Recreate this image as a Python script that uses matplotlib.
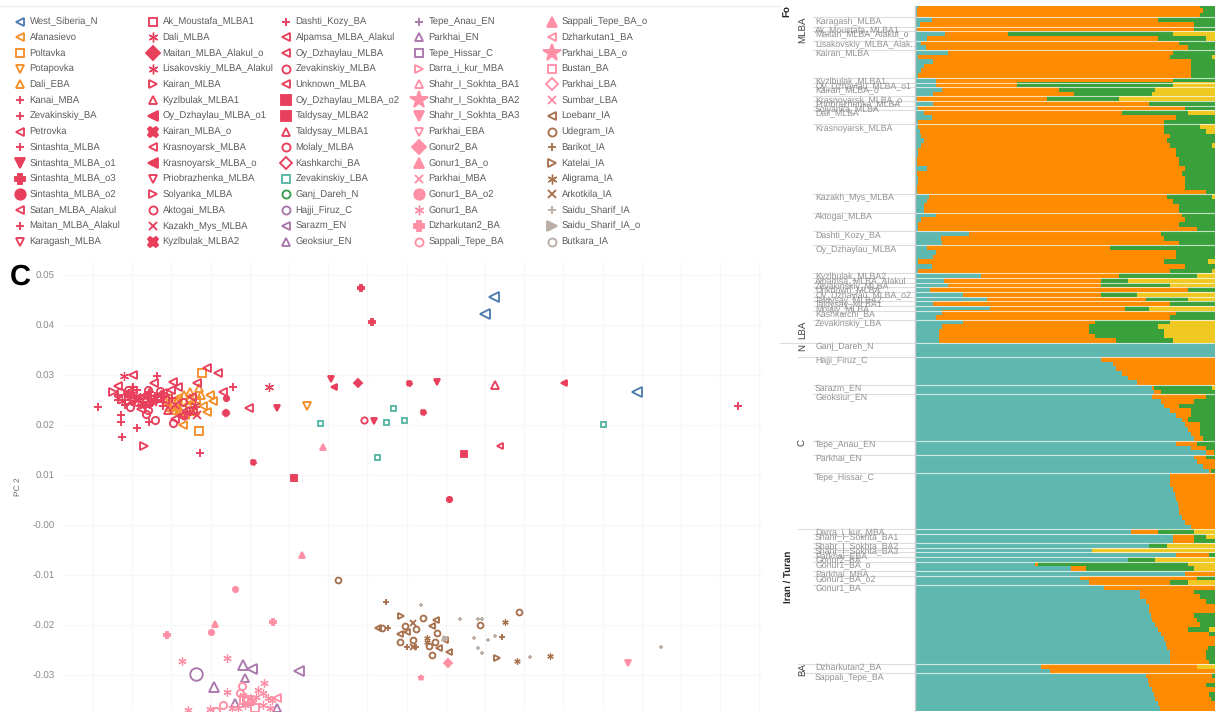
import numpy as np
import matplotlib
matplotlib.use('Agg')
import matplotlib.pyplot as plt

plt.rcParams['font.family'] = ['Liberation Sans', 'DejaVu Sans']
plt.rcParams['text.hinting'] = 'none'

blue = '#4f7cb0'
orange = '#f58f2a'
red = '#e8405c'
teal = '#58b6a6'
green = '#3a9e50'
purple = '#a977ab'
pink = '#ff8fa5'
brown = '#a8714d'
tan = '#bbaea6'

# legend entries, five columns of fifteen
pop_names = ['West_Siberia_N', 'Afanasievo', 'Poltavka', 'Potapovka', 'Dali_EBA', 'Kanai_MBA', 'Zevakinskiy_BA',
             'Petrovka', 'Sintashta_MLBA', 'Sintashta_MLBA_o1', 'Sintashta_MLBA_o3', 'Sintashta_MLBA_o2',
             'Satan_MLBA_Alakul', 'Maitan_MLBA_Alakul', 'Karagash_MLBA',
             'Ak_Moustafa_MLBA1', 'Dali_MLBA', 'Maitan_MLBA_Alakul_o', 'Lisakovskiy_MLBA_Alakul', 'Kairan_MLBA',
             'Kyzlbulak_MLBA1', 'Oy_Dzhaylau_MLBA_o1', 'Kairan_MLBA_o', 'Krasnoyarsk_MLBA', 'Krasnoyarsk_MLBA_o',
             'Priobrazhenka_MLBA', 'Solyanka_MLBA', 'Aktogai_MLBA', 'Kazakh_Mys_MLBA', 'Kyzlbulak_MLBA2',
             'Dashti_Kozy_BA', 'Alpamsa_MLBA_Alakul', 'Oy_Dzhaylau_MLBA', 'Zevakinskiy_MLBA', 'Unknown_MLBA',
             'Oy_Dzhaylau_MLBA_o2', 'Taldysay_MLBA2', 'Taldysay_MLBA1', 'Molaly_MLBA', 'Kashkarchi_BA',
             'Zevakinskiy_LBA', 'Ganj_Dareh_N', 'Hajji_Firuz_C', 'Sarazm_EN', 'Geoksiur_EN',
             'Tepe_Anau_EN', 'Parkhai_EN', 'Tepe_Hissar_C', 'Darra_i_kur_MBA', 'Shahr_I_Sokhta_BA1',
             'Shahr_I_Sokhta_BA2', 'Shahr_I_Sokhta_BA3', 'Parkhai_EBA', 'Gonur2_BA', 'Gonur1_BA_o',
             'Parkhai_MBA', 'Gonur1_BA_o2', 'Gonur1_BA', 'Dzharkutan2_BA', 'Sappali_Tepe_BA',
             'Sappali_Tepe_BA_o', 'Dzharkutan1_BA', 'Parkhai_LBA_o', 'Bustan_BA', 'Parkhai_LBA',
             'Sumbar_LBA', 'Loebanr_IA', 'Udegram_IA', 'Barikot_IA', 'Katelai_IA',
             'Aligrama_IA', 'Arkotkila_IA', 'Saidu_Sharif_IA', 'Saidu_Sharif_IA_o', 'Butkara_IA']

ast = (6, 2, 0)
pop_markers = ['<', '<', 's', 'v', '^', '+', '+', '<', '+', 'v', 'P', 'o', '<', '+', 'v',
               's', ast, 'D', ast, '>', '^', '<', 'X', '<', '<', 'v', '>', 'o', 'x', 'X',
               '+', '<', '<', 'o', '<', 's', 's', '^', 'o', 'D', 's', 'o', 'o', '<', '^',
               '+', '^', 's', '>', '^', '*', 'v', 'v', 'D', '^', 'x', 'o', ast, 'P', 'o',
               '^', '<', '*', 's', 'D', 'x', '<', 'o', '+', '>', ast, 'x', '+', '>', 'o']

pop_colors = [blue] + [orange] * 4 + [red] * 35 + [teal, green] + [purple] * 6 + [pink] * 18 + \
             [brown] * 6 + [tan] * 3

filled_pops = ['Sintashta_MLBA_o1', 'Sintashta_MLBA_o3', 'Sintashta_MLBA_o2', 'Maitan_MLBA_Alakul_o',
               'Oy_Dzhaylau_MLBA_o1', 'Kairan_MLBA_o', 'Krasnoyarsk_MLBA_o', 'Kyzlbulak_MLBA2',
               'Oy_Dzhaylau_MLBA_o2', 'Taldysay_MLBA2', 'Shahr_I_Sokhta_BA2', 'Shahr_I_Sokhta_BA3',
               'Gonur2_BA', 'Gonur1_BA_o', 'Gonur1_BA_o2', 'Dzharkutan2_BA', 'Sappali_Tepe_BA_o',
               'Parkhai_LBA_o', 'Saidu_Sharif_IA_o']

# PC1 has no tick labels in the picture, so its units are arbitrary
pc1_vals = [
    [0.494, 0.485, 0.637],
    [0.183, 0.207, 0.210, 0.213, 0.167, 0.187, 0.185, 0.203, 0.176, 0.172, 0.178, 0.193, 0.196, 0.168],
    [0.202, 0.199, 0.190],
    [0.307],
    [0.173, 0.190, 0.199, 0.190, 0.178, 0.195, 0.184, 0.180, 0.201, 0.170],
    [0.738],
    [0.200],
    [0.133, 0.118, 0.154],
    [0.098, 0.121, 0.121, 0.122, 0.137, 0.157, 0.149, 0.118, 0.133, 0.157, 0.148, 0.172, 0.233, 0.141, 0.127,
     0.118, 0.125, 0.135, 0.143, 0.150, 0.163],
    [0.331, 0.277, 0.374, 0.437],
    [0.361, 0.372],
    [0.449, 0.226],
    [0.173, 0.178, 0.141, 0.150],
    [0.145, 0.137, 0.152, 0.163, 0.128, 0.155],
    [0.190],
    [0.160],
    [0.124, 0.132, 0.269, 0.147, 0.138, 0.118, 0.128, 0.133, 0.143, 0.122, 0.136, 0.151],
    [0.358],
    [0.145, 0.195, 0.131, 0.140, 0.148],
    [0.113, 0.144, 0.165],
    [0.495],
    [0.564],
    [0.226],
    [0.197, 0.207, 0.218, 0.249, 0.223, 0.163, 0.183, 0.192, 0.171, 0.159],
    [0.334],
    [],
    [0.165],
    [0.148, 0.130, 0.148, 0.155, 0.173, 0.193, 0.120, 0.128, 0.137, 0.146, 0.133],
    [0.197, 0.175, 0.153],
    [0.409, 0.253, 0.423],
    [0.150, 0.125],
    [0.165, 0.186],
    [0.181, 0.175],
    [0.183, 0.160],
    [0.500],
    [0.294],
    [0.464],
    [0.168],
    [0.364],
    [],
    [0.320, 0.386, 0.377, 0.393, 0.404, 0.603],
    [],
    [0.196],
    [0.252, 0.299],
    [0.214, 0.243],
    [],
    [0.245, 0.235, 0.251, 0.277],
    [0.247],
    [],
    [],
    [0.421],
    [0.628],
    [],
    [0.448],
    [0.302, 0.215],
    [],
    [0.235, 0.211],
    [0.182, 0.227, 0.264, 0.227, 0.258, 0.268, 0.188, 0.263, 0.245, 0.238, 0.263, 0.270, 0.210, 0.252,
     0.243, 0.250, 0.232, 0.256, 0.272],
    [0.167, 0.273],
    [0.242, 0.223, 0.247, 0.216, 0.240],
    [0.323],
    [0.277],
    [],
    [0.247, 0.255, 0.244],
    [],
    [],
    [0.378, 0.436, 0.432, 0.400, 0.445, 0.439, 0.449, 0.407],
    [0.338, 0.519, 0.423, 0.405, 0.416, 0.437, 0.400, 0.413, 0.435, 0.429, 0.432, 0.480, 0.382],
    [0.386, 0.388, 0.502, 0.407, 0.416],
    [0.401, 0.497],
    [0.505, 0.517, 0.550, 0.427, 0.427],
    [0.413, 0.413],
    [0.421, 0.460, 0.530, 0.474, 0.488, 0.495, 0.478, 0.482, 0.661, 0.478, 0.482],
    [0.445],
    [],
]

pc2_vals = [
    [0.0456, 0.0422, 0.0266],
    [0.0200, 0.0226, 0.0260, 0.0248, 0.0244, 0.0240, 0.0220, 0.0238, 0.0232, 0.0228, 0.0254, 0.0226, 0.0250, 0.0254],
    [0.0304, 0.0188, 0.0234],
    [0.0238],
    [0.0246, 0.0266, 0.0274, 0.0254, 0.0250, 0.0228, 0.0260, 0.0230, 0.0260, 0.0236],
    [0.0238],
    [0.0144],
    [0.0300, 0.0278, 0.0284],
    [0.0236, 0.0220, 0.0206, 0.0176, 0.0194, 0.0298, 0.0206, 0.0250, 0.0276, 0.0250, 0.0254, 0.0254, 0.0276, 0.0240, 0.0262,
     0.0260, 0.0240, 0.0254, 0.0246, 0.0266, 0.0246],
    [0.0292, 0.0234, 0.0208, 0.0286],
    [0.0474, 0.0406],
    [0.0052, 0.0254],
    [0.0286, 0.0276, 0.0232, 0.0252],
    [0.0260, 0.0270, 0.0244, 0.0238, 0.0256, 0.0258],
    [0.0226],
    [0.0254],
    [0.0298, 0.0274, 0.0276, 0.0260, 0.0250, 0.0254, 0.0264, 0.0264, 0.0242, 0.0248, 0.0258, 0.0252],
    [0.0284],
    [0.0240, 0.0240, 0.0248, 0.0256, 0.0264],
    [0.0266, 0.0158, 0.0260],
    [0.0280],
    [0.0284],
    [0.0224],
    [0.0284, 0.0314, 0.0304, 0.0234, 0.0266, 0.0264, 0.0220, 0.0256, 0.0270, 0.0252],
    [0.0276],
    [],
    [0.0260],
    [0.0270, 0.0236, 0.0230, 0.0210, 0.0204, 0.0230, 0.0266, 0.0270, 0.0246, 0.0222, 0.0252],
    [0.0220, 0.0240, 0.0246],
    [0.0284, 0.0126, 0.0226],
    [0.0240, 0.0250],
    [0.0250, 0.0228],
    [0.0218, 0.0212],
    [0.0246, 0.0268],
    [0.0158],
    [0.0094],
    [0.0142],
    [0.0230],
    [0.0210],
    [],
    [0.0204, 0.0206, 0.0136, 0.0234, 0.0210, 0.0202],
    [],
    [-0.0298],
    [-0.0288, -0.0292],
    [-0.0324, -0.0280],
    [],
    [-0.0306, -0.0356, -0.0348, -0.0366],
    [-0.0352],
    [],
    [],
    [-0.0306],
    [-0.0276],
    [],
    [-0.0276],
    [-0.0060, -0.0198],
    [],
    [-0.0128, -0.0214],
    [-0.0272, -0.0266, -0.0316, -0.0334, -0.0330, -0.0346, -0.0370, -0.0336, -0.0360, -0.0366, -0.0360, -0.0366, -0.0368, -0.0352,
     -0.0340, -0.0356, -0.0366, -0.0344, -0.0350],
    [-0.0220, -0.0194],
    [-0.0322, -0.0360, -0.0350, -0.0372, -0.0336],
    [0.0156],
    [-0.0346],
    [],
    [-0.0350, -0.0366, -0.0350],
    [],
    [],
    [-0.0206, -0.0190, -0.0202, -0.0218, -0.0230, -0.0246, -0.0254, -0.0214],
    [-0.0110, -0.0174, -0.0186, -0.0202, -0.0208, -0.0216, -0.0234, -0.0230, -0.0234, -0.0242, -0.0260, -0.0200, -0.0206],
    [-0.0154, -0.0206, -0.0224, -0.0244, -0.0244],
    [-0.0182, -0.0266],
    [-0.0194, -0.0272, -0.0262, -0.0226, -0.0234],
    [-0.0196, -0.0244],
    [-0.0160, -0.0188, -0.0264, -0.0226, -0.0230, -0.0222, -0.0246, -0.0256, -0.0244, -0.0188, -0.0188],
    [-0.0226],
    [],
]

point_ms = {'West_Siberia_N': 7.5, 'Hajji_Firuz_C': 9, 'Poltavka': 6, 'Afanasievo': 6, 'Potapovka': 5.5,
            'Dali_EBA': 6, 'Zevakinskiy_LBA': 3.6, 'Kanai_MBA': 6, 'Kyzlbulak_MLBA1': 5.5, 'Sarazm_EN': 6.5,
            'Geoksiur_EN': 6.5, 'Parkhai_EN': 6, 'Dali_MLBA': 6.5, 'Lisakovskiy_MLBA_Alakul': 6.5,
            'Gonur1_BA': 6, 'Udegram_IA': 4.2, 'Loebanr_IA': 4.2, 'Barikot_IA': 4.2, 'Katelai_IA': 4,
            'Aligrama_IA': 4.5, 'Arkotkila_IA': 3.8, 'Saidu_Sharif_IA': 2.5, 'Saidu_Sharif_IA_o': 3.5,
            'Molaly_MLBA': 4.5, 'Unknown_MLBA': 4.5, 'Kyzlbulak_MLBA2': 3.6}

# stacked ancestry bars, one row per individual
group_names = ['', 'Karagash_MLBA', 'Ak_Moustafa_MLBA1', 'Maitan_MLBA_Alakul_o', 'Lisakovskiy_MLBA_Alak..',
               'Kairan_MLBA', 'Kyzlbulak_MLBA1', 'Oy_Dzhaylau_MLBA_o1', 'Kairan_MLBA_o', 'Krasnoyarsk_MLBA_o',
               'Priobrazhenka_MLBA', 'Solyanka_MLBA', 'Dali_MLBA', 'Krasnoyarsk_MLBA', 'Kazakh_Mys_MLBA',
               'Aktogai_MLBA', 'Dashti_Kozy_BA', 'Oy_Dzhaylau_MLBA', 'Kyzlbulak_MLBA2', 'Alpamsa_MLBA_Alakul',
               'Zevakinskiy_MLBA', 'Unknown_MLBA', 'Oy_Dzhaylau_MLBA_o2', 'Taldysay_MLBA2', 'Taldysay_MLBA1',
               'Molaly_MLBA', 'Kashkarchi_BA', 'Zevakinskiy_LBA', 'Ganj_Dareh_N', 'Hajji_Firuz_C', 'Sarazm_EN',
               'Geoksiur_EN', 'Tepe_Anau_EN', 'Parkhai_EN', 'Tepe_Hissar_C', 'Darra_i_kur_MBA',
               'Shahr_I_Sokhta_BA1', 'Shahr_I_Sokhta_BA2', 'Shahr_I_Sokhta_BA3', 'Parkhai_EBA', 'Gonur2_BA',
               'Gonur1_BA_o', 'Parkhai_MBA', 'Gonur1_BA_o2', 'Gonur1_BA', 'Dzharkutan2_BA', 'Sappali_Tepe_BA']
group_sizes = [3, 2, 1, 2, 2, 6, 1, 1, 2, 1, 1, 1, 3, 15, 4, 4, 3, 6, 1, 1, 1, 1, 1, 1, 1, 1, 2, 5, 3, 6, 2,
               10, 3, 4, 12, 1, 2, 1, 1, 1, 1, 2, 1, 2, 17, 2, 8]
wide_rule_groups = ['Ganj_Dareh_N', 'Hajji_Firuz_C', 'Darra_i_kur_MBA', 'Dzharkutan2_BA', 'Sappali_Tepe_BA']

# percent of the bar where teal stops
teal_end = [1, 0.5, 0.5, 5.5, 1.5, 0.5, 10, 4, 2, 3.5, 11, 1, 6, 3, 2, 1, 7, 7, 9, 6, 0.5, 6, 1, 3, 5.5, 1,
            1, 1.5, 2, 3, 2, 1, 1, 0.5, 0.5, 4, 0.5, 1, 1, 0.5, 0.5,
            4.5, 4, 3, 3, 7, 2, 1, 1, 18, 8.5, 9, 4, 7, 6, 1, 5.5, 1,
            22, 9.5, 11, 5, 16, 24, 6, 25, 9, 7, 16, 9, 8, 8, 8,
            100, 100, 100, 62, 66, 67, 69, 71, 74, 79, 79.5,
            79, 82, 83, 85, 87, 89, 90, 91, 92, 93, 87, 92, 97, 93, 94, 96, 98,
            85, 85, 85, 86, 86.5, 87, 87.5, 88, 88, 89, 90, 92,
            72, 86, 86, 78, 59, 87, 71, 40, 52, 90, 55, 58,
            63, 75, 75, 77, 78, 78, 78.5, 79, 80, 81, 82, 83, 83.5, 84, 85, 85, 85,
            42, 45, 77, 77.5, 78, 79, 79.5, 80, 81, 81.5]
# percent where orange stops
orange_end = [95, 96, 95, 81, 93, 93, 31, 81, 88, 91, 86, 85, 92, 92, 92, 92, 86, 34, 48, 53, 44, 78, 90, 69, 87, 83,
              83, 83, 85, 84, 85, 87, 87, 88, 88, 90, 89, 90, 90, 90, 97,
              84, 86, 88, 88, 89, 90, 88, 94, 82, 83, 88, 65, 87, 87, 83, 90, 85,
              68, 62, 62, 91, 62, 77, 85, 70, 87, 85, 60, 58, 58, 60, 67,
              100, 100, 100, 100, 100, 100, 100, 100, 100, 79.5, 82,
              97, 93, 88, 92, 92, 91, 95, 95, 95, 96, 94, 97, 99.5, 97, 100, 100, 98.5,
              100, 100, 100, 100, 100, 100, 100, 100, 100, 100, 100, 100,
              81, 93, 93, 78, 59, 98, 71, 41, 57, 100, 94, 85,
              100, 93, 95, 97, 100, 100, 93, 94, 95, 91, 98, 100, 100, 97.5, 97, 97, 98,
              94, 100, 99, 100, 97, 100, 98, 98.5, 100, 100]
# percent where green stops, the rest is yellow
green_end = [100, 100, 100, 100, 100, 100, 86, 97, 100, 100, 100, 99, 100, 100, 100, 100, 100, 86, 80, 79, 68, 100, 100, 91, 100, 100,
             95, 97, 100, 100, 99, 100, 100, 100, 100, 100, 100, 100, 100, 100, 100,
             99, 100, 100, 100, 100, 100, 100, 100, 100, 100, 100, 100, 100, 100, 97.5, 100, 99,
             94, 71, 85, 100, 74, 91, 100, 78, 100, 100, 85, 81, 83, 83, 86,
             100, 100, 100, 100, 100, 100, 100, 100, 100, 99, 100,
             100, 100, 100, 100, 100, 100, 100, 100, 100, 100, 100, 100, 100, 100, 100, 100, 100,
             100, 100, 100, 100, 100, 100, 100, 100, 100, 100, 100, 100,
             93, 97, 100, 84, 59, 100, 80, 91, 93, 100, 100, 91,
             100, 100, 100, 100, 100, 100, 100, 100, 100, 98, 100, 100, 100, 100, 100, 100, 100,
             94, 100, 100, 100, 100, 100, 100, 100, 100, 100]

strip_labels = ['MLBA', 'LBA', 'N', 'C', 'BA']
y_ticks = [0.05, 0.04, 0.03, 0.02, 0.01, 0.0, -0.01, -0.02, -0.03]
y_tick_labels = ['0.05', '0.04', '0.03', '0.02', '0.01', '-0.00', '-0.01', '-0.02', '-0.03']

W, H = 1215.0, 720.0
fig = plt.figure(figsize=(12.15, 7.2), dpi=100)


def px_axes(x0, y0, x1, y1):
    return fig.add_axes([x0 / W, 1 - y1 / H, (x1 - x0) / W, (y1 - y0) / H])


# PCA scatter
ax = px_axes(63, 262, 762, 711)
ax.set_xlim(0.063, 0.762)
ax.set_ylim((525 - 711) / 5000.0, (525 - 262) / 5000.0)
for s in ax.spines.values():
    s.set_visible(False)
ax.set_xticks(np.arange(0.093, 0.762, 0.0392))
ax.set_yticks(y_ticks)
ax.set_yticklabels(y_tick_labels)
ax.set_xticklabels([])
ax.tick_params(length=0, labelsize=7, labelcolor='#8a8a8a', pad=6)
ax.grid(True, color='#f7f7f7', lw=0.9)
ax.set_axisbelow(True)
ax.set_ylabel('PC 2', fontsize=6, color='#666666', labelpad=8)

for i, name in enumerate(pop_names):
    is_filled = name in filled_pops
    ms = point_ms.get(name, 3.8 if is_filled else 5.2)
    mew = 0.9 if pop_markers[i] == ast else 1.35
    ax.plot(pc1_vals[i], pc2_vals[i], ls='none', marker=pop_markers[i], ms=ms,
            mec=pop_colors[i], mfc=pop_colors[i] if is_filled else 'none', mew=mew)

# stacked bars
row_h = 4.65
n_rows = sum(group_sizes)
bar_ax = px_axes(915, 6, 1215, 710.7)
rows = np.arange(n_rows) + 0.5
teal_w = np.array(teal_end)
orange_w = np.array(orange_end) - teal_w
green_w = np.array(green_end) - np.array(orange_end)
yellow_w = 100 - np.array(green_end)
bar_ax.barh(rows, teal_w, height=1.02, color='#5fb8b0', lw=0)
bar_ax.barh(rows, orange_w, left=teal_w, height=1.02, color='#ff8c00', lw=0)
bar_ax.barh(rows, green_w, left=teal_w + orange_w, height=1.02, color='#3aa03c', lw=0)
bar_ax.barh(rows, yellow_w, left=teal_w + orange_w + green_w, height=1.02, color='#efc822', lw=0)
bar_ax.set_xlim(0, 100)
bar_ax.set_ylim(n_rows, (6 - 3.4) / row_h)
bar_ax.axis('off')

start = 0
for name, size in zip(group_names, group_sizes):
    if start > 0:
        bar_ax.axhline(start, color='white', lw=0.8, alpha=0.7)
        left = -45 if name == 'Ganj_Dareh_N' else (-39 if name in wide_rule_groups else -34)
        bar_ax.plot([left, 0], [start, start], color='#dddddd', lw=0.8, clip_on=False)
    bar_ax.text(-33.3, start + 0.85, name, fontsize=6.3, color='#919191', va='center', ha='left', clip_on=False)
    start += size

# everything placed in picture pixels: legend, letters, strips
pax = fig.add_axes([0, 0, 1, 1])
pax.set_xlim(0, W)
pax.set_ylim(H, 0)
pax.axis('off')
pax.patch.set_alpha(0)

pax.plot([0, 780], [6, 6], color='#eeeeee', lw=1)
pax.plot([915, 915], [6, 711], color='#cccccc', lw=1)

for i, name in enumerate(pop_names):
    col, row = i // 15, i % 15
    mx = 20 + 133 * col
    my = 21.5 + 15.72 * row
    is_filled = name in filled_pops
    ms = 7 if pop_markers[i] == ast else 5.8
    if is_filled:
        ms = 13 if pop_markers[i] == '*' else 7.5
    mew = 1.0 if pop_markers[i] == ast else 1.35
    pax.plot([mx], [my], marker=pop_markers[i], ms=ms, ls='none', mec=pop_colors[i],
             mfc=pop_colors[i] if is_filled else 'none', mew=mew)
    pax.text(mx + 9.5, my, name, fontsize=6.85, color='#5c5c5c', va='center', ha='left')

pax.text(10, 277, 'C', fontsize=21, fontweight='bold', color='black', va='center', ha='left')

strip_y = [30, 330, 347, 442, 669]
for lab, sy in zip(strip_labels, strip_y):
    pax.text(803, sy, lab, fontsize=7, color='#444444', rotation=90, va='center', ha='center')
pax.text(788, 577, 'Iran / Turan', fontsize=7, fontweight='bold', color='#222222', rotation=90,
         va='center', ha='center')
pax.text(787, 17, 'Fo', fontsize=7, fontweight='bold', color='#222222', rotation=90, va='bottom', ha='center')

fig.savefig('out.png', dpi=100)
